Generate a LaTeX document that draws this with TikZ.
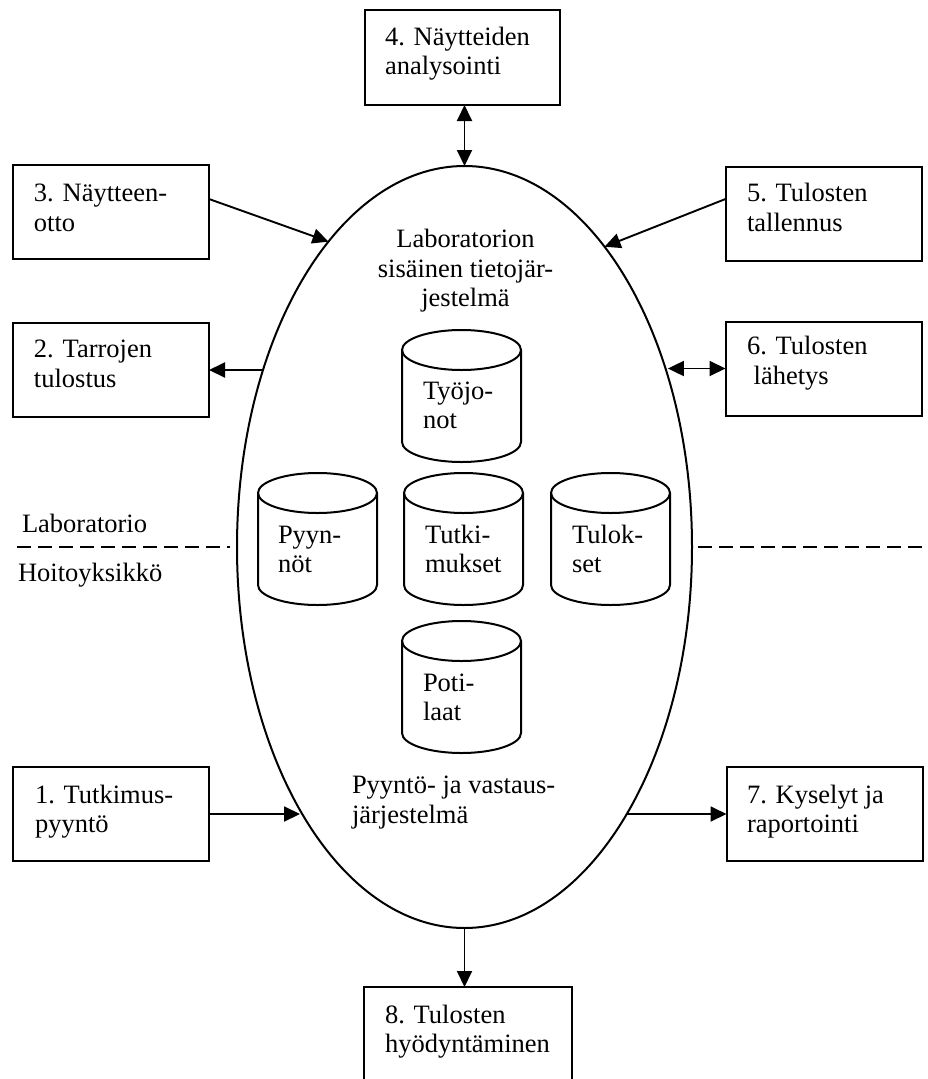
\documentclass[tikz,border=0pt]{standalone}
\usepackage{fontspec}
\setmainfont{Liberation Serif}
\usetikzlibrary{arrows.meta,shapes.geometric}

% database cylinder: #1 left edge x, #2 y of the top ellipse centre
\newcommand\dbcylinder[2]{%
  \draw (#1+59.5,-#2) ellipse [x radius=59.5, y radius=20];
  \draw (#1,-#2) -- (#1,-#2-92)
        arc [start angle=180, end angle=360, x radius=59.5, y radius=20]
        -- (#1+119,-#2);
}

\begin{document}
\begin{tikzpicture}[x=1pt, y=1pt, line width=2pt,
  box/.style={draw, rectangle, minimum width=196pt, minimum height=94pt,
              inner sep=0pt, outer sep=0pt},
  % multi-line texts are placed by the baseline of their last line
  txt/.style={inner sep=0pt, outer sep=0pt, anchor=base west, align=left,
              font=\fontsize{26.5pt}{29.5pt}\selectfont},
  ctxt/.style={txt, anchor=base, align=center},
  tip/.tip={Triangle[length=16pt, width=15pt]},
  arr/.style={-tip, line width=1.9pt},
  darr/.style={tip-tip, line width=1.9pt},
  divider/.style={dash pattern=on 14pt off 7pt, line width=2pt}
]
\useasboundingbox (0,0) rectangle (928,-1079);

% the laboratory system
\node[draw, ellipse, minimum width=455pt, minimum height=762pt,
      inner sep=0pt, outer sep=0pt] (lis) at (464.5,-547) {};

% process boxes
\node[box, minimum width=195pt, minimum height=95pt] (box4) at (462.5,-57.5) {};
\node[box] (box3) at (111,-212) {};
\node[box] (box5) at (823.5,-214) {};
\node[box] (box2) at (111,-370) {};
\node[box] (box6) at (823.5,-368.5) {};
\node[box] (box1) at (111,-814) {};
\node[box] (box7) at (824.5,-814) {};
\node[box, minimum width=208pt] (box8) at (468,-1034) {};

\node[txt] (t4) at (385,-74.5)   {4. Näytteiden\\analysointi};
\node[txt] (t3) at (34,-231)     {3. Näytteen-\\otto};
\node[txt] (t5) at (747,-231)    {5. Tulosten\\tallennus};
\node[txt] (t2) at (34,-387)     {2. Tarrojen\\tulostus};
\node[txt] (t6) at (747,-384)    {6. Tulosten\\\ lähetys};
\node[txt] (t1) at (35,-832.5)   {1. Tutkimus-\\pyyntö};
\node[txt] (t7) at (747,-832.5)  {7. Kyselyt ja\\raportointi};
\node[txt] (t8) at (385,-1052.5) {8. Tulosten\\hyödyntäminen};

% texts inside the ellipse
\node[ctxt] (lisname) at (465.5,-306.5) {Laboratorion\\sisäinen tietojär-\\jestelmä};
\node[txt] (prsname) at (352,-823) {Pyyntö- ja vastaus-\\järjestelmä};

% databases
\dbcylinder{402}{350}
\dbcylinder{258}{493}
\dbcylinder{404}{493}
\dbcylinder{551}{493}
\dbcylinder{402}{641}
\node[txt] (db1) at (423,-428.5) {Työjo-\\not};
\node[txt] (db2) at (278,-572.5) {Pyyn-\\nöt};
\node[txt] (db3) at (425,-572.5) {Tutki-\\mukset};
\node[txt] (db4) at (572,-572.5) {Tulok-\\set};
\node[txt] (db5) at (423,-720.5) {Poti-\\laat};

% laboratory / ward boundary
\coordinate (dl1) at (17,-547);
\coordinate (dl2) at (230,-547);
\coordinate (dr1) at (698,-547);
\coordinate (dr2) at (928,-547);
\draw[divider] (dl1) -- (dl2);
\draw[divider] (dr1) -- (dr2);
\node[txt] (lab) at (22,-532) {Laboratorio};
\node[txt] (ward) at (18,-581) {Hoitoyksikkö};

% data flows
\draw[darr] (lis.north) -- (lis.north |- box4.south);
\draw[arr] ([yshift=13pt]box3.east) -- (lis.114.8);
\draw[arr] ([yshift=15pt]box5.west) -- (lis.65.2);
\draw[arr] (box2.east -| lis.138.1) -- (box2.east);
\draw[darr] (box6.west -| lis.40.3) -- (box6.west);
\draw[arr] (box1.east) -- (box1.east -| lis.238.3);
\draw[arr] (box7.west -| lis.301.7) -- (box7.west);
\draw[arr] (lis.south) -- (lis.south |- box8.north);
\end{tikzpicture}
\end{document}
